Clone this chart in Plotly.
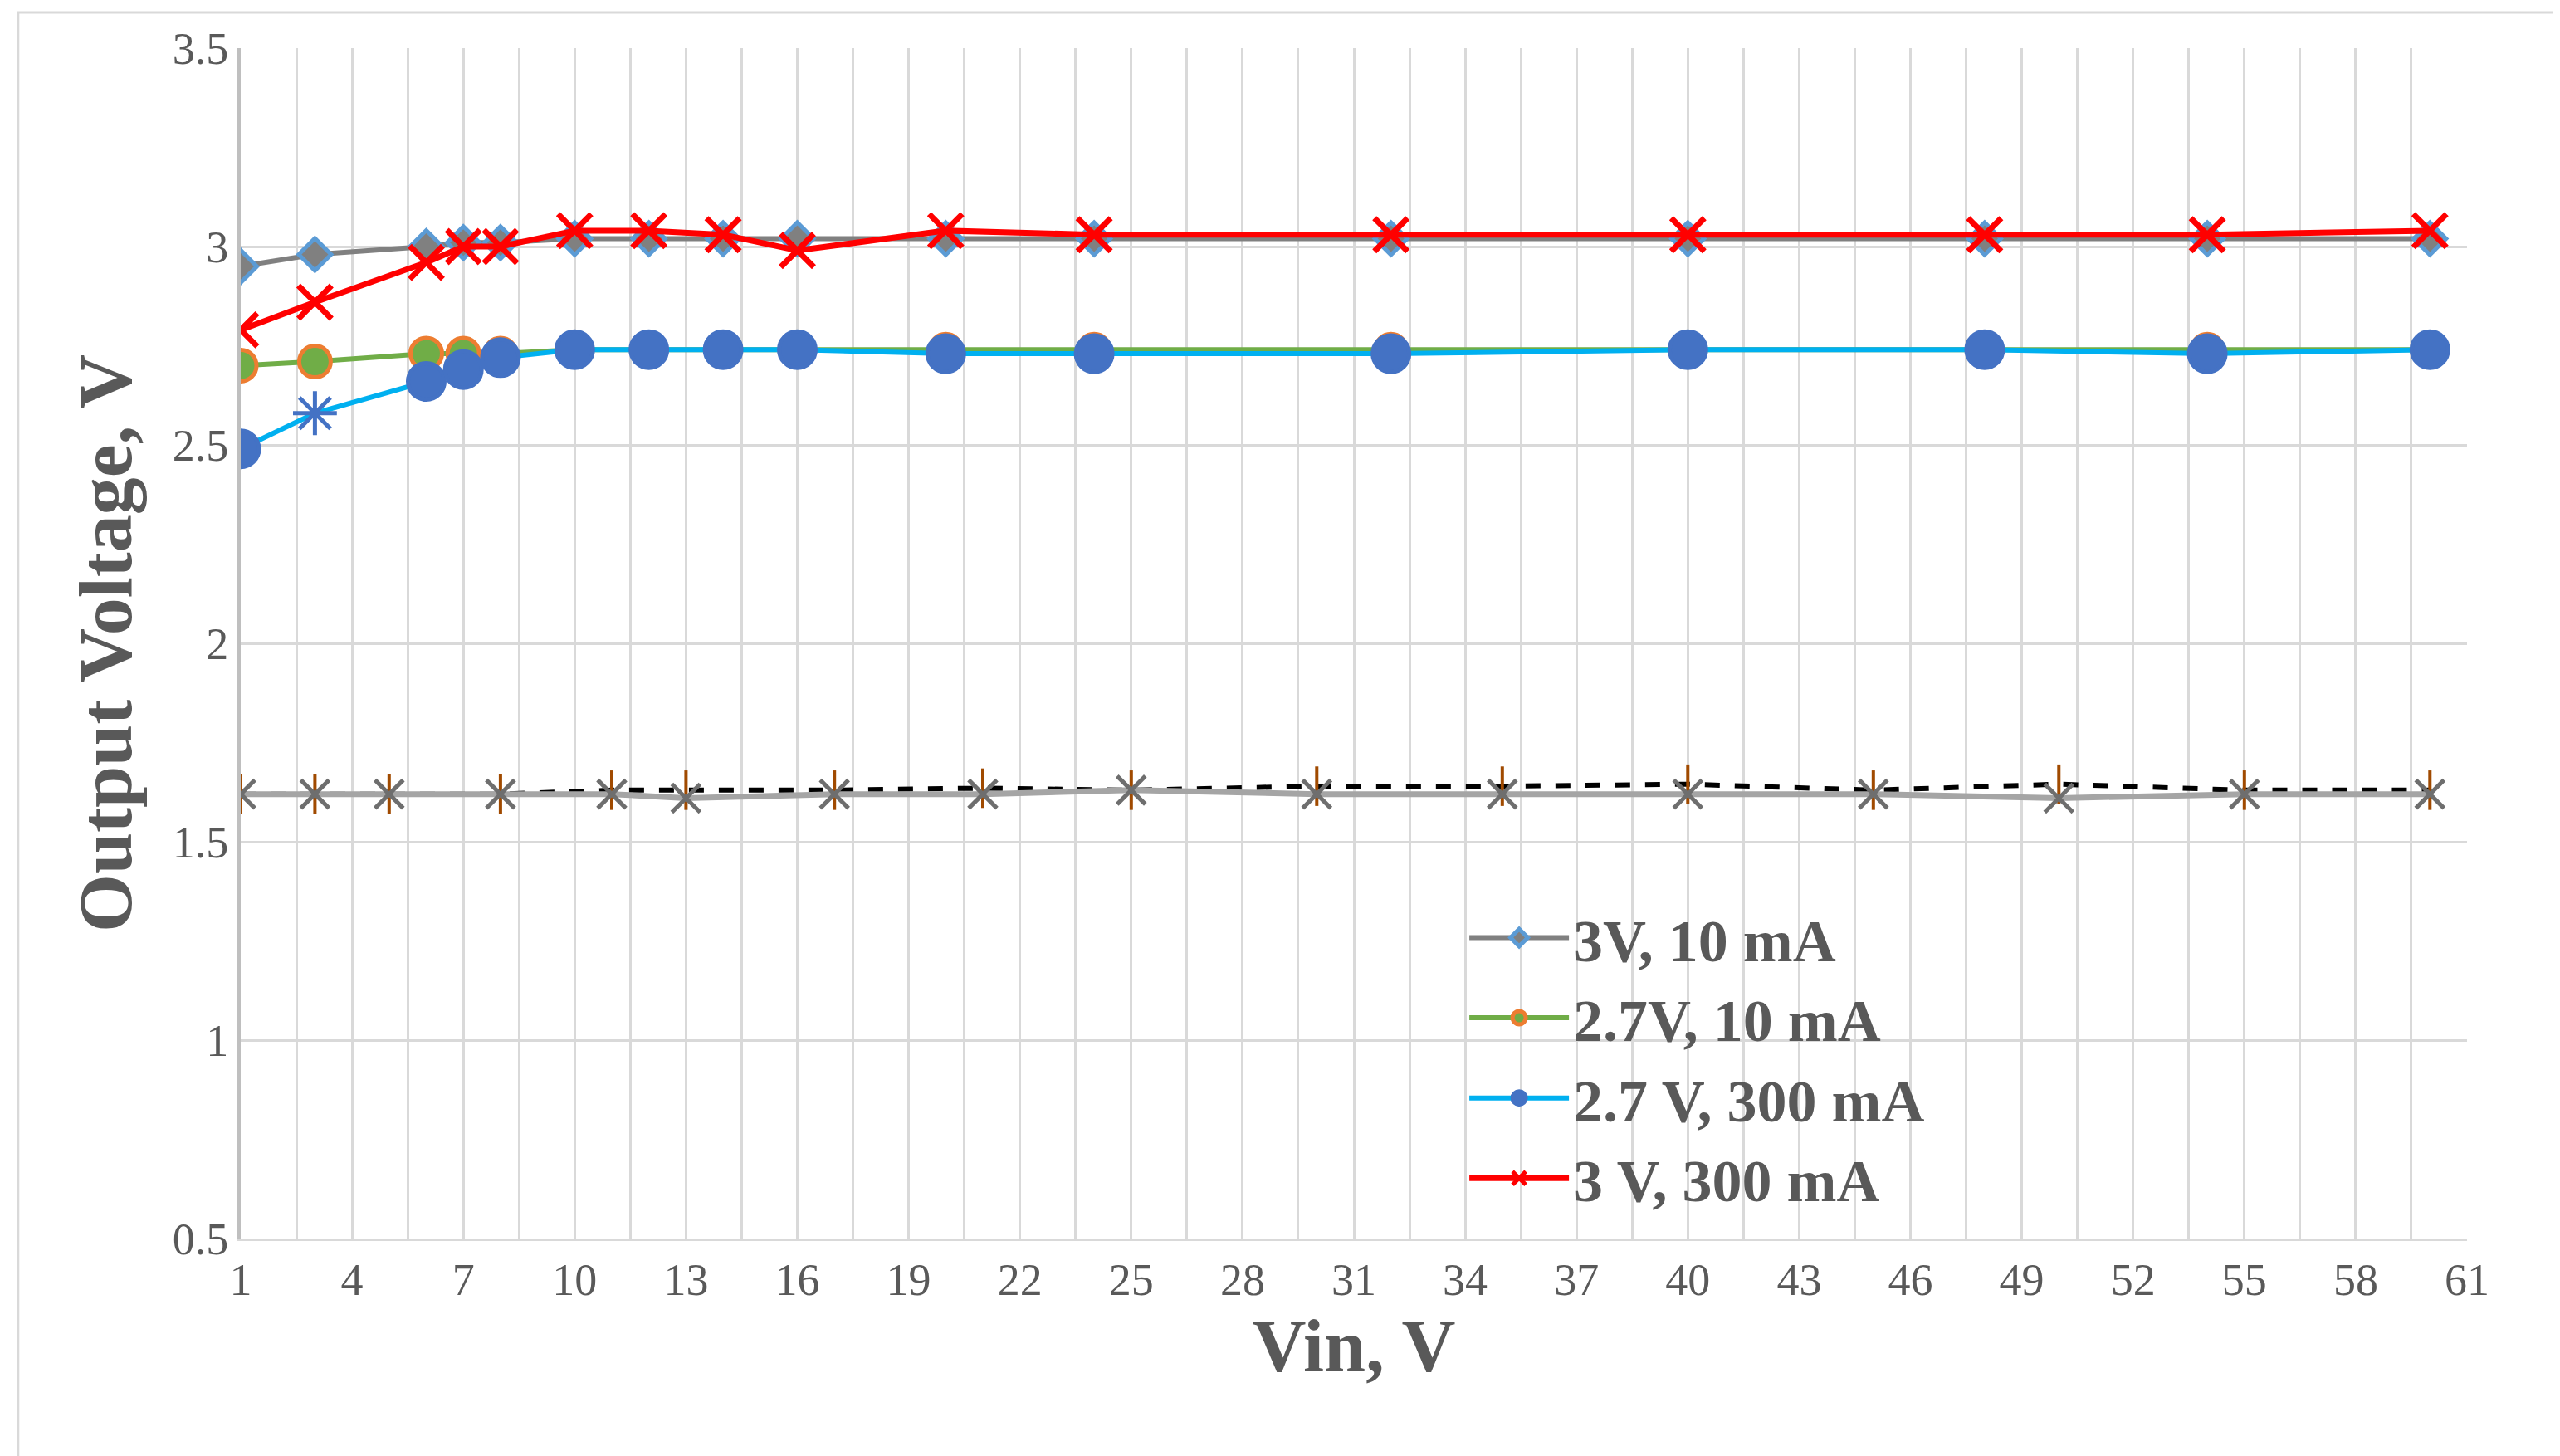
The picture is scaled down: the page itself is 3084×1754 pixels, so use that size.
import plotly.graph_objects as go

vin_top = [1, 3, 6, 7, 8, 10, 12, 14, 16, 20, 24, 32, 40, 48, 54, 60]
v3_10ma = [2.95, 2.98, 3.00, 3.01, 3.01, 3.02, 3.02, 3.02, 3.02, 3.02, 3.02, 3.02, 3.02, 3.02, 3.02, 3.02]
v27_10ma = [2.70, 2.71, 2.73, 2.73, 2.73, 2.74, 2.74, 2.74, 2.74, 2.74, 2.74, 2.74, 2.74, 2.74, 2.74, 2.74]
v27_300ma = [2.49, 2.58, 2.66, 2.69, 2.72, 2.74, 2.74, 2.74, 2.74, 2.73, 2.73, 2.73, 2.74, 2.74, 2.73, 2.74]
v3_300ma = [2.79, 2.86, 2.96, 3.00, 3.00, 3.04, 3.04, 3.03, 2.99, 3.04, 3.03, 3.03, 3.03, 3.03, 3.03, 3.04]

vin_low = [1, 3, 5, 8, 11, 13, 17, 21, 25, 30, 35, 40, 45, 50, 55, 60]
v_low_gray = [1.62, 1.62, 1.62, 1.62, 1.62, 1.61, 1.62, 1.62, 1.63, 1.62, 1.62, 1.62, 1.62, 1.61, 1.62, 1.62]
v_low_dash = [1.62, 1.62, 1.62, 1.62, 1.63, 1.63, 1.63, 1.635, 1.63, 1.64, 1.64, 1.645, 1.63, 1.645, 1.63, 1.63]

font = "Liberation Serif"
fig = go.Figure()

fig.add_scatter(x=vin_low, y=v_low_dash, mode="lines+markers", showlegend=False,
                line=dict(color="black", width=6, dash="dash"),
                marker=dict(symbol="line-ns", size=34, line=dict(color="#A04A00", width=4)))
fig.add_scatter(x=vin_low, y=v_low_gray, mode="lines+markers", showlegend=False,
                line=dict(color="#A5A5A5", width=7),
                marker=dict(symbol="x-thin", size=34, line=dict(color="#6E6E6E", width=5)))

fig.add_scatter(x=vin_top, y=v3_10ma, mode="lines+markers", name="<b>3V, 10 mA</b>",
                line=dict(color="#808080", width=6),
                marker=dict(symbol="diamond", size=30, color="#808080",
                            line=dict(color="#5B9BD5", width=5)))
fig.add_scatter(x=vin_top, y=v27_10ma, mode="lines+markers", name="<b>2.7V, 10 mA</b>",
                line=dict(color="#70AD47", width=6),
                marker=dict(symbol="circle", size=38, color="#70AD47",
                            line=dict(color="#ED7D31", width=5)))
symbols = ["circle"] * len(vin_top)
symbols[1] = "asterisk"
fig.add_scatter(x=vin_top, y=v27_300ma, mode="lines+markers", name="<b>2.7 V, 300 mA</b>",
                line=dict(color="#00B0F0", width=6),
                marker=dict(symbol=symbols, size=44, color="#4472C4",
                            line=dict(color="#4472C4", width=5)))
fig.add_scatter(x=vin_top, y=v3_300ma, mode="lines+markers", name="<b>3 V, 300 mA</b>",
                line=dict(color="#FF0000", width=7),
                marker=dict(symbol="x-thin", size=40, line=dict(color="#FF0000", width=7)))

fig.update_xaxes(range=[1, 61], tick0=1, dtick=3, showgrid=True, gridcolor="#D9D9D9",
                 gridwidth=3, minor=dict(dtick=1.5, tick0=1, showgrid=True,
                                         gridcolor="#D9D9D9", gridwidth=3),
                 zeroline=False, showline=True, linecolor="#D9D9D9", linewidth=3,
                 tickfont=dict(family=font, size=54, color="#595959"), ticks="",
                 title=dict(text="<b>Vin, V</b>", font=dict(family=font, size=90, color="#595959"),
                            standoff=10))
fig.update_yaxes(range=[0.5, 3.5], dtick=0.5, showgrid=True, gridcolor="#D9D9D9", gridwidth=3,
                 zeroline=False, showline=True, linecolor="#BFBFBF", linewidth=4,
                 tickfont=dict(family=font, size=54, color="#595959"), ticks="",
                 title=dict(text="<b>Output Voltage, V</b>",
                            font=dict(family=font, size=90, color="#595959"), standoff=20))

fig.update_layout(
    width=3084, height=1754, plot_bgcolor="white", paper_bgcolor="white",
    margin=dict(l=282, r=120, t=50, b=270),
    legend=dict(x=0.55, y=0.29, xanchor="left", yanchor="top", bgcolor="rgba(255,255,255,0)",
                font=dict(family=font, size=72, color="#595959"), itemwidth=120,
                tracegroupgap=0),
    shapes=[dict(type="rect", xref="paper", yref="paper", x0=-0.1, x1=1.04, y0=-0.19, y1=1.03,
                 line=dict(color="#D9D9D9", width=3))],
)
fig.write_html("out.html")
